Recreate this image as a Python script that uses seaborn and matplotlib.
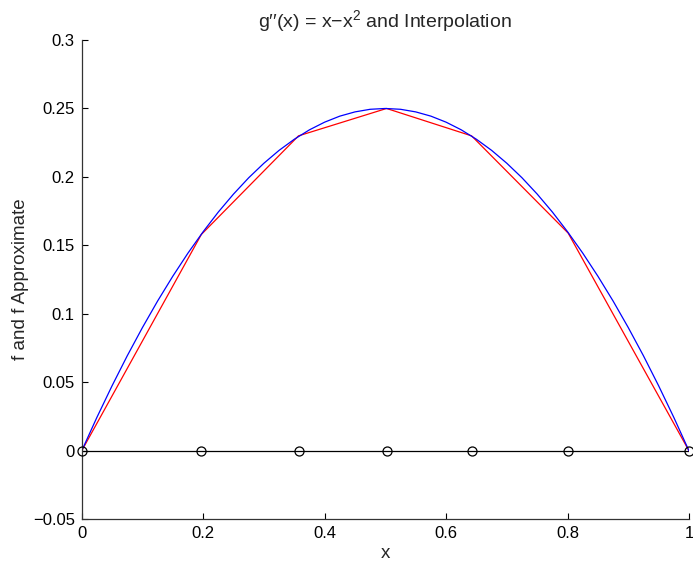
import matplotlib
matplotlib.use("Agg")
import matplotlib.pyplot as plt
import seaborn as sns
import pandas as pd

# exact curve samples (blue)
x_fine = [0.0, 0.025, 0.05, 0.075, 0.1, 0.125, 0.15, 0.175, 0.2, 0.225, 0.25,
          0.275, 0.3, 0.325, 0.35, 0.375, 0.4, 0.425, 0.45, 0.475, 0.5,
          0.525, 0.55, 0.575, 0.6, 0.625, 0.65, 0.675, 0.7, 0.725, 0.75,
          0.775, 0.8, 0.825, 0.85, 0.875, 0.9, 0.925, 0.95, 0.975, 1.0]
f_exact = [0.0, 0.0244, 0.0475, 0.0694, 0.090, 0.1094, 0.1275, 0.1444, 0.160, 0.1744, 0.1875,
           0.1994, 0.210, 0.2194, 0.2275, 0.2344, 0.240, 0.2444, 0.2475, 0.2494, 0.250,
           0.2494, 0.2475, 0.2444, 0.240, 0.2344, 0.2275, 0.2194, 0.210, 0.1994, 0.1875,
           0.1744, 0.160, 0.1444, 0.1275, 0.1094, 0.090, 0.0694, 0.0475, 0.0244, 0.0]

# interpolation nodes (red + circles)
x_nodes = [0.0, 0.197, 0.357, 0.502, 0.642, 0.801, 1.0]
f_nodes = [0.0, 0.158, 0.230, 0.250, 0.230, 0.159, 0.0]
zero_line = [0.0, 0.0, 0.0, 0.0, 0.0, 0.0, 0.0]

x_ticks = [0, 0.2, 0.4, 0.6, 0.8, 1.0]
x_tick_labels = ["0", "0.2", "0.4", "0.6", "0.8", "1"]
y_ticks = [-0.05, 0, 0.05, 0.1, 0.15, 0.2, 0.25, 0.3]
y_tick_labels = ["\u22120.05", "0", "0.05", "0.1", "0.15", "0.2", "0.25", "0.3"]

sns.set_style("ticks")
plt.rcParams["font.family"] = ["Liberation Sans", "DejaVu Sans"]
plt.rcParams["mathtext.fontset"] = "custom"
plt.rcParams["mathtext.rm"] = "Liberation Sans"
plt.rcParams["mathtext.it"] = "Liberation Sans"

fig = plt.figure(figsize=(6.93, 5.67), dpi=100)
ax = fig.add_axes([81.7 / 693, 1 - 519.3 / 567, (689 - 81.7) / 693, (519.3 - 40) / 567])

df_exact = pd.DataFrame({"x": x_fine, "f": f_exact})
df_nodes = pd.DataFrame({"x": x_nodes, "f": f_nodes, "z": zero_line})

sns.lineplot(data=df_nodes, x="x", y="z", ax=ax, color="black", linewidth=0.9,
             sort=False, estimator=None)
sns.lineplot(data=df_nodes, x="x", y="f", ax=ax, color="#ff0000", linewidth=0.9,
             sort=False, estimator=None)
sns.lineplot(data=df_exact, x="x", y="f", ax=ax, color="#0000ff", linewidth=0.9,
             sort=False, estimator=None)
ax.plot(df_nodes["x"], df_nodes["z"], linestyle="none", marker="o", markersize=6.5,
        markerfacecolor="none", markeredgecolor="black", markeredgewidth=0.9,
        clip_on=False, zorder=5)

ax.set_xlim(0, 1)
ax.set_ylim(-0.05, 0.3)
ax.set_xticks(x_ticks)
ax.set_xticklabels(x_tick_labels)
ax.set_yticks(y_ticks)
ax.set_yticklabels(y_tick_labels)
ax.tick_params(direction="in", length=4, width=0.8, labelsize=12, colors="black", pad=5)

for s in ["top", "right"]:
    ax.spines[s].set_visible(False)
for s in ["left", "bottom"]:
    ax.spines[s].set_color("#333333")
    ax.spines[s].set_linewidth(0.9)

ax.set_title("g\u2032\u2032(x) = x\u2212x$^2$ and Interpolation", fontsize=14, pad=9)
ax.set_xlabel("x", fontsize=13.5, labelpad=3)
ax.set_ylabel("f and f Approximate", fontsize=13.5, labelpad=3)

fig.savefig("out.png", dpi=100)
